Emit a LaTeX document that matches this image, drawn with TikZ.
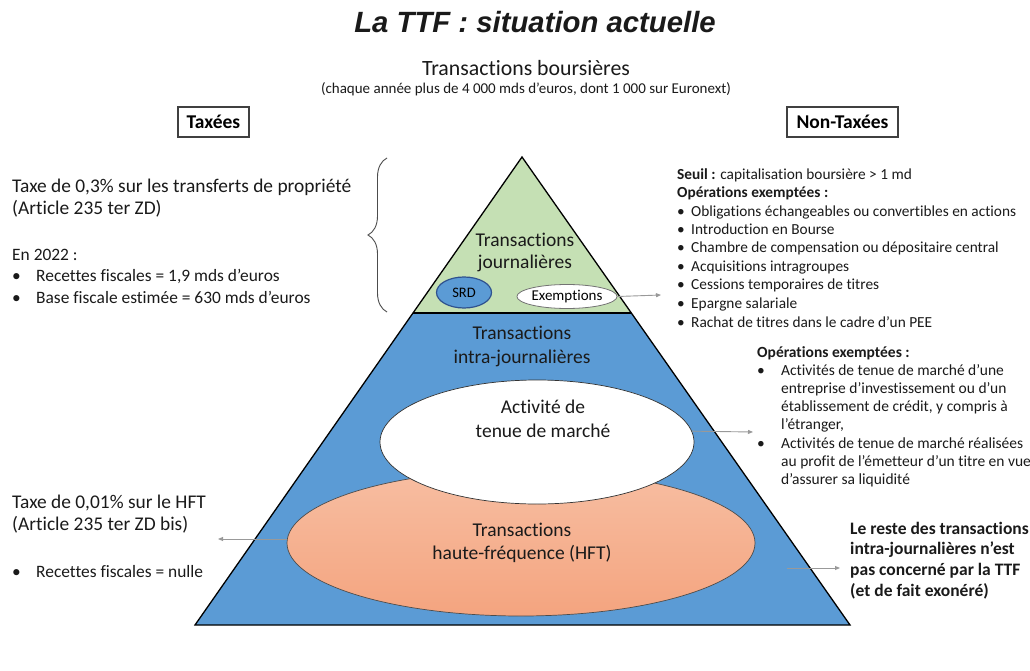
\documentclass[tikz,border=0pt]{standalone}
\usepackage{fontspec}
\setmainfont[Ligatures=NoCommon]{Carlito}
\newfontfamily\arialfont{Liberation Sans}
\usetikzlibrary{decorations.pathreplacing,arrows.meta,calc,shapes.geometric}
\definecolor{tgreen}{HTML}{C5E0B4}
\definecolor{tblue}{HTML}{5B9BD5}
\definecolor{tdblue}{HTML}{2F528F}
\definecolor{tsalmtop}{HTML}{F7BEA2}
\definecolor{tsalmbot}{HTML}{F4A47F}
\definecolor{tarrow}{HTML}{999999}
\definecolor{ttext}{HTML}{1A1A1A}
\begin{document}
\begin{tikzpicture}[x=1pt,y=-1pt,
  txt/.style={inner sep=0pt,anchor=base west,text=ttext},
  ctxt/.style={inner sep=0pt,anchor=base,text=ttext,align=center},
  garrow/.style={draw=tarrow,line width=0.9pt,-{Triangle[length=5pt,width=4pt]}},
  hbox/.style={draw=black!75,line width=1.2pt,minimum height=30pt,inner sep=0pt,font=\fontsize{19.5}{22}\selectfont\bfseries},
  ell/.style={ellipse,inner sep=0pt}
]
\useasboundingbox (0,0) rectangle (1030,671);
\fill[white] (0,0) rectangle (1030,671);

% title
\node[ctxt,font={\arialfont\fontsize{29.3}{32}\selectfont\bfseries\itshape}] (title) at (535,33) {La TTF : situation actuelle};
\node[ctxt,font={\fontsize{21.8}{24}\selectfont}] (sub) at (526,76) {Transactions boursières};
\node[ctxt,font={\fontsize{15}{17}\selectfont}] (sub2) at (526,94) {(chaque année plus de 4 000 mds d’euros, dont 1 000 sur Euronext)};

% boxes
\node[hbox,minimum width=71pt] (tax) at (213.5,122) {Taxées};
\node[hbox,minimum width=111pt] (ntax) at (842.5,122) {Non-Taxées};

% pyramid
\coordinate (apex) at (522,157);
\coordinate (bl) at (195,625);
\coordinate (br) at (850,625);
\coordinate (gl) at ($(apex)!0.3333!(bl)$);
\coordinate (gr) at ($(apex)!0.3333!(br)$);
\fill[tblue] (gl) -- (bl) -- (br) -- (gr) -- cycle;
\fill[tgreen] (apex) -- (gl) -- (gr) -- cycle;

% salmon ellipse
\node[ell,minimum width=468pt,minimum height=146pt,top color=tsalmtop,bottom color=tsalmbot,draw=black!70,line width=0.7pt] (hft) at (521,543) {};
% white ellipse
\node[ell,minimum width=314pt,minimum height=124pt,fill=white,draw=black!80,line width=0.7pt] (mm) at (537,442) {};

\draw[black,line width=1.3pt,line join=miter] (apex) -- (bl) -- (br) -- cycle;
\draw[black,line width=1.2pt] (gl) -- (gr);

% small ellipses
\node[ell,minimum width=55pt,minimum height=31pt,fill=tblue,draw=tdblue,line width=1.2pt,font=\fontsize{14.5}{16}\selectfont] (srd) at (464,292.5) {SRD};
\node[ell,minimum width=82pt,minimum height=24pt,fill=white,draw=black!55,line width=0.8pt,font=\fontsize{15}{17}\selectfont] (exm) at (567,296.5) {Exemptions};

% pyramid texts (anchor = baseline of last line)
\node[ctxt,font={\fontsize{19.5}{22}\selectfont}] (tj) at (525,268) {Transactions\\journalières};
\node[ctxt,font={\fontsize{19.5}{24}\selectfont}] (tij) at (522,363) {Transactions\\intra-journalières};
\node[ctxt,font={\fontsize{19.5}{24}\selectfont}] (tmm) at (543,437) {Activité de\\tenue de marché};
\node[ctxt,font={\fontsize{19.5}{23}\selectfont}] (thft) at (522,559) {Transactions\\haute-fréquence (HFT)};

% brace
\draw[black!70,line width=0.9pt,decorate,decoration={brace,amplitude=19pt}] (387,312) -- (387,158);

% left texts
\node[txt] (lt1) at (12,193) {\fontsize{19.4}{21.5}\selectfont\begin{tabular}[t]{@{}l@{}}Taxe de 0,3\% sur les transferts de propriété\\(Article 235 ter ZD)\end{tabular}};
\node[txt] (lt2) at (12,260) {\fontsize{17.4}{21.5}\selectfont\begin{tabular}[t]{@{}p{24pt}@{}l@{}}\multicolumn{2}{@{}l@{}}{En 2022 :}\\•&Recettes fiscales = 1,9 mds d’euros\\•&Base fiscale estimée = 630 mds d’euros\end{tabular}};
\node[txt] (lt3) at (12,508) {\fontsize{19.4}{22}\selectfont\begin{tabular}[t]{@{}l@{}}Taxe de 0,01\% sur le HFT\\(Article 235 ter ZD bis)\end{tabular}};
\node[txt] (lt4) at (12,577) {\fontsize{17.4}{21}\selectfont\begin{tabular}[t]{@{}p{24pt}@{}l@{}}•&Recettes fiscales = nulle\end{tabular}};

% right texts
\node[txt] (rt1) at (677,179) {\fontsize{15.35}{18.5}\selectfont\begin{tabular}[t]{@{}p{14pt}@{}l@{}}\multicolumn{2}{@{}l@{}}{\textbf{Seuil :} capitalisation boursière > 1 md}\\
\multicolumn{2}{@{}l@{}}{\textbf{Opérations exemptées :}}\\
•&Obligations échangeables ou convertibles en actions\\
•&Introduction en Bourse\\
•&Chambre de compensation ou dépositaire central\\
•&Acquisitions intragroupes\\
•&Cessions temporaires de titres\\
•&Epargne salariale\\
•&Rachat de titres dans le cadre d’un PEE\end{tabular}};
\node[txt] (rt2) at (757,357) {\fontsize{15.5}{18.2}\selectfont\begin{tabular}[t]{@{}p{24pt}@{}l@{}}\multicolumn{2}{@{}l@{}}{\textbf{Opérations exemptées :}}\\
•&Activités de tenue de marché d’une\\
&entreprise d’investissement ou d’un\\
&établissement de crédit, y compris à\\
&l’étranger,\\
•&Activités de tenue de marché réalisées\\
&au profit de l’émetteur d’un titre en vue\\
&d’assurer sa liquidité\end{tabular}};
\node[txt] (rt3) at (850,534) {\fontsize{17.5}{20.7}\selectfont\bfseries\begin{tabular}[t]{@{}l@{}}Le reste des transactions\\intra-journalières n’est\\pas concerné par la TTF\\(et de fait exonéré)\end{tabular}};

% arrows
\coordinate (exmEnd) at (661,295);
\coordinate (mmEnd) at (753,432);
\coordinate (hftEnd) at (218,539);
\coordinate (hftStart) at (287,539);
\coordinate (brS) at (787,568);
\coordinate (brE) at (840,568);
\draw[garrow] (exm.east) -- (exmEnd);
\draw[garrow] (mm.4) -- (mmEnd);
\draw[garrow] (hftStart) -- (hftEnd);
\draw[garrow] (brS) -- (brE);
\end{tikzpicture}
\end{document}
